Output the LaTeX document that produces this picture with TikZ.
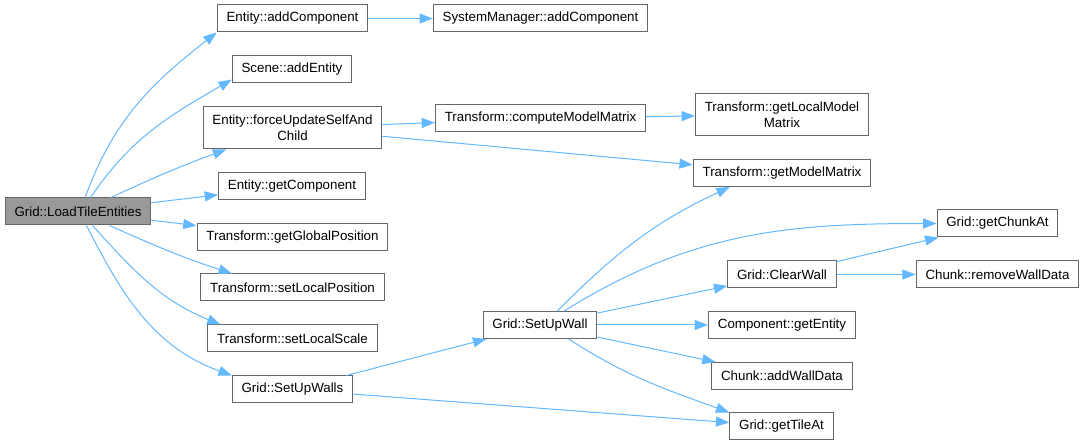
\documentclass[tikz,border=0pt]{standalone}
\usepackage{fontspec}
\setmainfont{Liberation Sans}
\usepackage{xcolor}
\usetikzlibrary{arrows.meta}
\definecolor{edgeblue}{HTML}{63B8FF}
\definecolor{boxgray}{HTML}{666666}
\definecolor{rootgray}{HTML}{999999}

\begin{document}
\begin{tikzpicture}[x=0.75pt,y=-0.75pt,
    fn/.style={draw=boxgray,line width=0.75pt,fill=white,inner xsep=7pt,inner ysep=2pt,
      minimum height=20.25pt,align=center,font=\fontsize{10}{12}\selectfont},
    call/.style={draw=edgeblue,line width=0.75pt,-{Triangle[length=10pt,width=7.5pt]}}]
    \useasboundingbox (0,0) rectangle (1083,445);
    \node[fn,fill=rootgray] (lte) at (78,211.5) {Grid::LoadTileEntities};
    \node[fn] (eac) at (292.5,18.5) {Entity::addComponent};
    \node[fn] (sae) at (292,69) {Scene::addEntity};
    \node[fn,minimum height=31.5pt] (efu) at (292.5,128) {Entity::forceUpdateSelfAnd\\Child};
    \node[fn] (egc) at (292,186) {Entity::getComponent};
    \node[fn] (tgp) at (292.5,237) {Transform::getGlobalPosition};
    \node[fn] (tlp) at (292.5,287.5) {Transform::setLocalPosition};
    \node[fn] (tls) at (292.5,338.5) {Transform::setLocalScale};
    \node[fn] (gsws) at (292.5,389.5) {Grid::SetUpWalls};
    \node[fn] (smac) at (540.5,18.5) {SystemManager::addComponent};
    \node[fn] (tcmm) at (540.5,118.5) {Transform::computeModelMatrix};
    \node[fn,minimum height=31.5pt] (tlmm) at (782,114.5) {Transform::getLocalModel\\Matrix};
    \node[fn] (tgmm) at (782,173) {Transform::getModelMatrix};
    \node[fn] (gsw) at (540,325) {Grid::SetUpWall};
    \node[fn] (gca) at (997.5,223.5) {Grid::getChunkAt};
    \node[fn] (gcw) at (782,274.5) {Grid::ClearWall};
    \node[fn] (crw) at (997.5,274.5) {Chunk::removeWallData};
    \node[fn] (cge) at (782,325) {Component::getEntity};
    \node[fn] (caw) at (782,376) {Chunk::addWallData};
    \node[fn] (gta) at (781.5,426.5) {Grid::getTileAt};
    \draw[call] (lte.63) to[out=70,in=218] (eac.south west);
    \draw[call] (lte.48) to[out=56,in=210] (sae.190);
    \draw[call] (lte.23) to[out=25,in=200] (efu.198);
    \draw[call] (lte) -- (egc);
    \draw[call] (lte) -- (tgp);
    \draw[call] (lte.-24) to[out=-24,in=162] (tlp.167);
    \draw[call] (lte.-44) to[out=-48,in=158] (tls.169);
    \draw[call] (lte.-59) to[out=-63,in=160] (gsws.north west);
    \draw[call] (eac) -- (smac);
    \draw[call] (efu) -- (tcmm);
    \draw[call] (efu) -- (tgmm);
    \draw[call] (tcmm) -- (tlmm);
    \draw[call] (gsws) -- (gsw);
    \draw[call] (gsws) -- (gta);
    \draw[call] (gsw.39) to[out=45,in=205] (tgmm.195);
    \draw[call] (gsw.30) to[out=32,in=180] (gca);
    \draw[call] (gsw) -- (gcw);
    \draw[call] (gsw) -- (cge);
    \draw[call] (gsw) -- (caw);
    \draw[call] (gsw.-26) to[out=-33,in=160] (gta.north west);
    \draw[call] (gcw) -- (gca);
    \draw[call] (gcw) -- (crw);
  \end{tikzpicture}
\end{document}
